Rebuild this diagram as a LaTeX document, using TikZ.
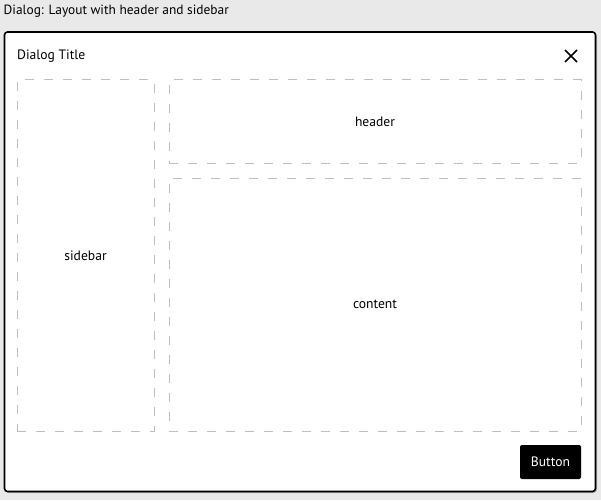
\documentclass[tikz,border=0pt]{standalone}
\usepackage{fontspec}
\setmainfont{PT Sans}
\definecolor{pagebg}{RGB}{233,233,234}
\definecolor{dashgray}{RGB}{190,190,190}
\tikzset{
  panel/.style={draw=dashgray,line width=1pt,dash pattern=on 9pt off 10pt,
    inner sep=0pt,font=\fontsize{13.6}{16}\selectfont},
  dialogbox/.style={draw=black,fill=white,line width=1.6pt,rounded corners=3pt},
  btn/.style={fill=black,text=white,rounded corners=2pt,inner sep=0pt,
    minimum width=61pt,minimum height=34pt,font=\fontsize{13.6}{16}\selectfont}
}
\begin{document}
\begin{tikzpicture}[x=1pt,y=-1pt]
\fill[pagebg](0,0) rectangle (601,500);
\useasboundingbox (0,0) rectangle (601,500);
\node[anchor=base west,inner sep=0pt,font=\fontsize{13.4}{16}\selectfont] (caption) at (3.5,14.5) {Dialog: Layout with header and sidebar};
% dialog frame
\draw[gray!60,line width=1pt,rounded corners=3pt](5.5,33.5) rectangle (596.5,492.5);
\draw[dialogbox](4.5,32) rectangle (595.5,491.5);
\node[anchor=base west,inner sep=0pt,font=\fontsize{13.6}{16}\selectfont] (title) at (17,59.5) {Dialog Title};
\coordinate (closea) at (565,50);
\coordinate (closeb) at (577,62);
\draw[line width=1.5pt](closea) -- (closeb);
\draw[line width=1.5pt](closea |- closeb) -- (closeb |- closea);
% regions
\node[panel,minimum width=137pt,minimum height=351pt] (sidebar) at (85.5,255.5) {sidebar};
\node[panel,minimum width=412pt,minimum height=83pt] (header) at (375,121.5) {header};
\node[panel,minimum width=412pt,minimum height=253pt] (content) at (375,304.5) {content};
\node[btn] (button) at (550.5,462) {Button};
\end{tikzpicture}
\end{document}
